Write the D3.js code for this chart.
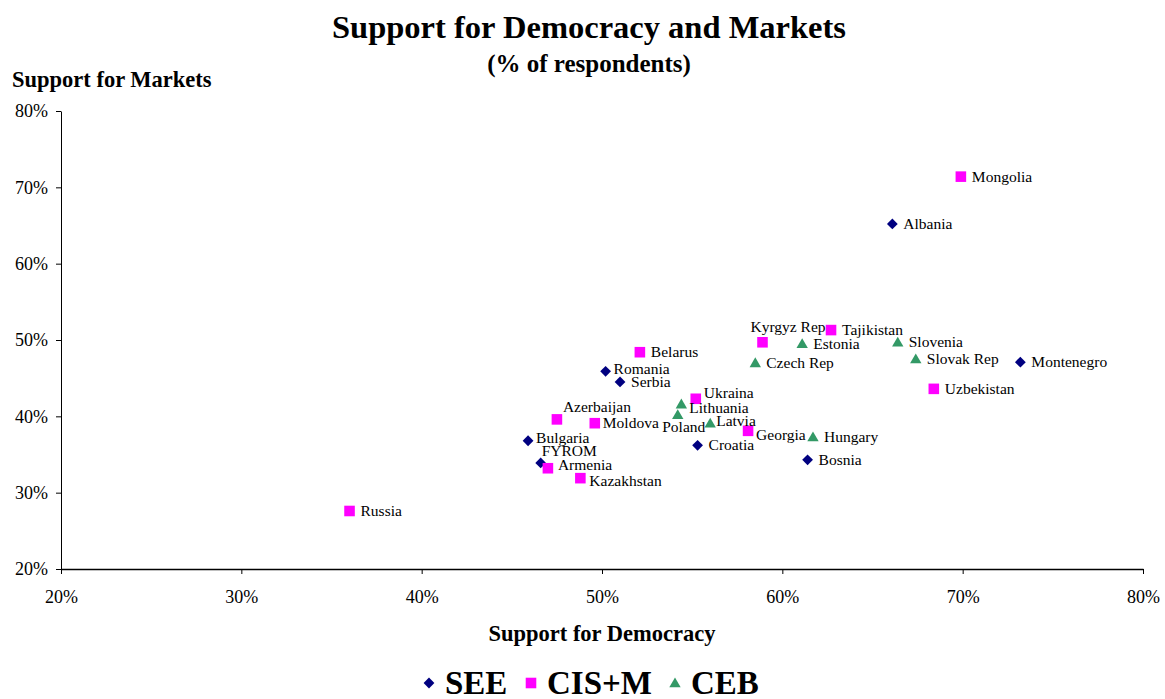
<!DOCTYPE html>
<meta charset="utf-8">
<title>Support for Democracy and Markets</title>
<script src="https://d3js.org/d3.v7.min.js"></script>
<style>
body { margin: 0; background: #fff; font-family: "Liberation Serif", "Times New Roman", serif; }
.axis path, .axis line { stroke: #000; }
.axis text { font-family: "Liberation Serif", serif; font-size: 18px; fill: #000; }
.lbl { font-size: 15.5px; fill: #000; }
.ttl { font-weight: bold; fill: #000; }
</style>
<body>
<div id="chart"></div>
<script>
// data (% of respondents)
var groups = ["SEE", "CIS+M", "CEB"];

var seeNames = ["Albania", "Montenegro", "Romania", "Serbia", "Bulgaria", "FYROM", "Croatia", "Bosnia"];
var seeDemocracy = [66.1, 73.2, 50.2, 51.0, 45.9, 46.6, 55.3, 61.4];
var seeMarkets = [65.2, 47.1, 45.9, 44.5, 36.8, 33.9, 36.2, 34.3];

var cisNames = ["Mongolia", "Tajikistan", "Kyrgyz Rep", "Belarus", "Uzbekistan", "Ukraina", "Azerbaijan", "Moldova", "Georgia", "Armenia", "Kazakhstan", "Russia"];
var cisDemocracy = [69.9, 62.7, 58.9, 52.1, 68.4, 55.2, 47.5, 49.6, 58.1, 47.0, 48.8, 36.0];
var cisMarkets = [71.4, 51.3, 49.7, 48.4, 43.6, 42.3, 39.6, 39.1, 38.1, 33.2, 31.9, 27.6];

var cebNames = ["Slovenia", "Estonia", "Czech Rep", "Slovak Rep", "Lithuania", "Poland", "Latvia", "Hungary"];
var cebDemocracy = [66.4, 61.1, 58.5, 67.4, 54.4, 54.2, 56.0, 61.7];
var cebMarkets = [49.7, 49.5, 47.0, 47.5, 41.6, 40.2, 39.1, 37.3];

var xTicks = [20, 30, 40, 50, 60, 70, 80];
var yTicks = [20, 30, 40, 50, 60, 70, 80];

// label placement tweaks (px offsets from the marker), default is right of marker
var labelPos = {
  "Kyrgyz Rep": [-12, -10],
  "Azerbaijan": [6, -7],
  "FYROM": [1, -7],
  "Lithuania": [8, 9],
  "Ukraina": [8, -1],
  "Latvia": [6, 3],
  "Georgia": [8, 9],
  "Armenia": [10, 2],
  "Kazakhstan": [9, 8],
  "Bulgaria": [8, 2],
  "Romania": [8, 3],
  "Moldova": [8, 5]
};

var colors = { "SEE": "#000080", "CIS+M": "#ff00ff", "CEB": "#339966" };

var points = [];
function addGroup(g, names, xs, ys) {
  names.forEach(function(n, i) { points.push({ name: n, group: g, dem: xs[i], mkt: ys[i] }); });
}
addGroup("SEE", seeNames, seeDemocracy, seeMarkets);
addGroup("CIS+M", cisNames, cisDemocracy, cisMarkets);
addGroup("CEB", cebNames, cebDemocracy, cebMarkets);

var W = 1165, H = 699;
var margin = { top: 111, left: 61, right: 22, bottom: 130 };
var width = W - margin.left - margin.right,
    height = H - margin.top - margin.bottom;

var svg = d3.select("#chart").append("svg")
  .attr("width", W).attr("height", H);

var g = svg.append("g")
  .attr("transform", "translate(" + margin.left + "," + margin.top + ")");

var x = d3.scaleLinear().domain([20, 80]).range([0, width]);
var y = d3.scaleLinear().domain([20, 80]).range([height, 0]);

g.append("g").attr("class", "axis")
  .attr("transform", "translate(0," + height + ")")
  .call(d3.axisBottom(x).tickValues(xTicks).tickSize(5).tickSizeOuter(0).tickPadding(16)
    .tickFormat(function(d) { return d + "%"; }))
  .call(function(s) { s.select(".domain").attr("stroke-width", 1.5); });

g.append("g").attr("class", "axis")
  .call(d3.axisLeft(y).tickValues(yTicks).tickSize(5).tickSizeOuter(0).tickPadding(8)
    .tickFormat(function(d) { return d + "%"; }))
  .call(function(s) { s.select(".domain").attr("stroke-width", 1); });

function symbolFor(grp) {
  if (grp === "SEE") return d3.symbol().type(d3.symbolSquare).size(58)();
  if (grp === "CIS+M") return d3.symbol().type(d3.symbolSquare).size(112)();
  return d3.symbol().type(d3.symbolTriangle).size(56)();
}

var marks = g.append("g").selectAll("g.pt").data(points).enter().append("g")
  .attr("class", "pt")
  .attr("transform", function(d) { return "translate(" + x(d.dem) + "," + y(d.mkt) + ")"; });

marks.append("path")
  .attr("d", function(d) { return symbolFor(d.group); })
  .attr("transform", function(d) { return d.group === "SEE" ? "rotate(45)" : d.group === "CEB" ? "translate(0,1)" : null; })
  .attr("fill", function(d) { return colors[d.group]; });

marks.append("text")
  .attr("class", "lbl")
  .attr("x", function(d) { return labelPos[d.name] ? labelPos[d.name][0] : 11; })
  .attr("y", function(d) { return labelPos[d.name] ? labelPos[d.name][1] : 5; })
  .text(function(d) { return d.name; });

// Poland sits under its marker
marks.filter(function(d) { return d.name === "Poland"; }).select("text")
  .attr("text-anchor", "middle").attr("x", 6).attr("y", 17);

// titles
svg.append("text").attr("class", "ttl").attr("x", 589).attr("y", 38)
  .attr("text-anchor", "middle").style("font-size", "32.5px")
  .text("Support for Democracy and Markets");
svg.append("text").attr("class", "ttl").attr("x", 589).attr("y", 72)
  .attr("text-anchor", "middle").style("font-size", "25px")
  .text("(% of respondents)");
svg.append("text").attr("class", "ttl").attr("x", 12).attr("y", 87)
  .style("font-size", "22.5px")
  .text("Support for Markets");
svg.append("text").attr("class", "ttl").attr("x", 602).attr("y", 641)
  .attr("text-anchor", "middle").style("font-size", "22.5px")
  .text("Support for Democracy");

// legend
var legX = [429, 531, 675];
var leg = svg.append("g").selectAll("g").data(groups).enter().append("g")
  .attr("transform", function(d, i) { return "translate(" + legX[i] + ",683)"; });
leg.append("path")
  .attr("d", function(d) { return symbolFor(d); })
  .attr("transform", function(d) { return d === "SEE" ? "rotate(45)" : d === "CEB" ? "translate(0,1)" : null; })
  .attr("fill", function(d) { return colors[d]; });
leg.append("text").attr("class", "ttl").attr("x", 16).attr("y", 11)
  .style("font-size", "33px")
  .text(function(d) { return d; });
</script>
</body>
